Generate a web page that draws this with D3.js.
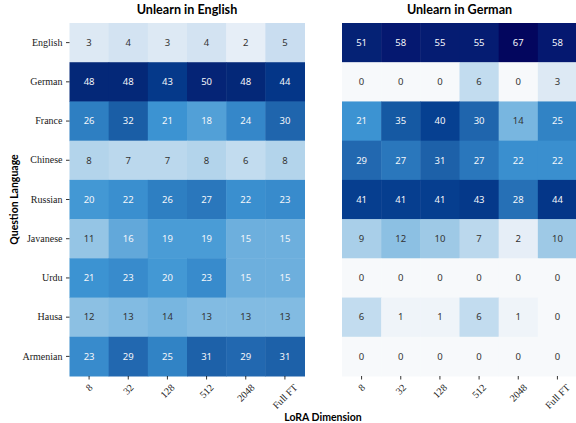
<!DOCTYPE html>
<html>
<head>
<meta charset="utf-8">
<script src="https://cdn.jsdelivr.net/npm/d3@7"></script>
<style>
    body { margin: 0; background: #fff; }
    svg { display: block; }
</style>
</head>
<body>
<div id="chart"></div>
<script>
const languages = ["English", "German", "France", "Chinese", "Russian", "Javanese", "Urdu", "Hausa", "Armenian"];
const loraDims = ["8", "32", "128", "512", "2048", "Full FT"];

const unlearnEnglish = [
    [3, 4, 3, 4, 2, 5],
    [48, 48, 43, 50, 48, 44],
    [26, 32, 21, 18, 24, 30],
    [8, 7, 7, 8, 6, 8],
    [20, 22, 26, 27, 22, 23],
    [11, 16, 19, 19, 15, 15],
    [21, 23, 20, 23, 15, 15],
    [12, 13, 14, 13, 13, 13],
    [23, 29, 25, 31, 29, 31]
];

const unlearnGerman = [
    [51, 58, 55, 55, 67, 58],
    [0, 0, 0, 6, 0, 3],
    [21, 35, 40, 30, 14, 25],
    [29, 27, 31, 27, 22, 22],
    [41, 41, 41, 43, 28, 44],
    [9, 12, 10, 7, 2, 10],
    [0, 0, 0, 0, 0, 0],
    [6, 1, 1, 6, 1, 0],
    [0, 0, 0, 0, 0, 0]
];

const width = 576, height = 423;
const gridTop = 23, gridBottom = 376;
const sans = "'Noto Sans', 'Open Sans', sans-serif";
const boldSans = "Lato, 'Noto Sans', sans-serif";
const serif = "'Liberation Serif', 'DejaVu Serif', serif";

// shared colour scale for both panels (0 .. 67)
const colour = d3.scaleLinear()
    .domain([0, 2, 3, 5, 6, 8, 10, 12, 14, 16, 19, 21, 23, 26, 29, 32, 35, 40, 44, 48, 51, 58, 67])
    .range(["#f7f9fb", "#e6eef7", "#dde9f4", "#c9ddf0", "#c2dcef", "#b3d4eb", "#9ec9e6", "#8cc0e3",
            "#78b6e0", "#62a8da", "#4a9cd6", "#3c93d2", "#388bcc", "#2e7fc2", "#2268b0", "#1a5ea6",
            "#1559a3", "#064091", "#043688", "#042878", "#052275", "#051870", "#03065e"])
    .interpolate(d3.interpolateRgb)
    .clamp(true);

const luminance = c => {
    const rgb = d3.rgb(c);
    const lin = v => {
        v /= 255;
        return v <= 0.03928 ? v / 12.92 : Math.pow((v + 0.055) / 1.055, 2.4);
    };
    return 0.2126 * lin(rgb.r) + 0.7152 * lin(rgb.g) + 0.0722 * lin(rgb.b);
};

const svg = d3.select("#chart").append("svg")
    .attr("width", width)
    .attr("height", height);

const y = d3.scaleBand()
    .domain(languages)
    .range([gridTop, gridBottom]);

const drawHeatmap = (data, x0, x1, title, showYAxis) => {
    const x = d3.scaleBand()
        .domain(loraDims)
        .range([x0, x1]);

    const g = svg.append("g");

    const cells = [];
    data.forEach((row, i) => {
        row.forEach((value, j) => {
            cells.push({ lang: languages[i], dim: loraDims[j], value: value });
        });
    });

    g.selectAll(".cell")
        .data(cells)
        .enter().append("rect")
        .attr("class", "cell")
        .attr("x", d => x(d.dim))
        .attr("y", d => y(d.lang))
        .attr("width", x.bandwidth() + 0.5)
        .attr("height", y.bandwidth() + 0.5)
        .attr("fill", d => colour(d.value));

    g.selectAll(".cell-label")
        .data(cells)
        .enter().append("text")
        .attr("class", "cell-label")
        .attr("x", d => x(d.dim) + x.bandwidth() / 2)
        .attr("y", d => y(d.lang) + y.bandwidth() / 2)
        .attr("dy", "0.35em")
        .style("text-anchor", "middle")
        .style("font-family", sans)
        .style("font-size", "9.5px")
        .style("fill", d => luminance(colour(d.value)) > 0.408 ? "#333333" : "#f4f6fa")
        .text(d => d.value);

    g.append("text")
        .attr("x", (x0 + x1) / 2)
        .attr("y", 14)
        .style("text-anchor", "middle")
        .style("font-family", boldSans)
        .style("font-weight", "bold")
        .style("font-size", "12.6px")
        .style("fill", "#000")
        .text(title);

    const xAxisGroup = g.append("g")
        .attr("transform", `translate(0,${gridBottom})`)
        .call(d3.axisBottom(x).tickSize(3.5).tickFormat(""));
    xAxisGroup.select(".domain").remove();
    xAxisGroup.selectAll("line").attr("stroke", "#000").attr("stroke-width", 0.8);

    // rotated tick labels, bbox centred on the tick
    const labelTop = gridBottom + 6.5;
    loraDims.forEach(dim => {
        const t = g.append("text")
            .style("font-family", serif)
            .style("font-size", "10px")
            .style("fill", "#1a1a1a")
            .style("text-anchor", "middle")
            .attr("dominant-baseline", "central")
            .text(dim);
        const len = t.node().getComputedTextLength();
        const h = 9;
        const cx = x(dim) + x.bandwidth() / 2;
        const cy = labelTop + (len + h) / (2 * Math.SQRT2);
        t.attr("x", cx).attr("y", cy)
            .attr("transform", `rotate(-45,${cx},${cy})`);
    });

    if (showYAxis) {
        const yAxisGroup = g.append("g")
            .attr("transform", `translate(${x0},0)`)
            .call(d3.axisLeft(y).tickSize(3.5).tickPadding(3.5));
        yAxisGroup.select(".domain").remove();
        yAxisGroup.selectAll("line").attr("stroke", "#000").attr("stroke-width", 0.8);
        yAxisGroup.selectAll("text")
            .style("font-family", serif)
            .style("font-size", "10px")
            .style("fill", "#1a1a1a");
    }
};

drawHeatmap(unlearnEnglish, 69.5, 304.5, "Unlearn in English", true);
drawHeatmap(unlearnGerman, 342, 577, "Unlearn in German", false);

svg.append("text")
    .attr("transform", `translate(14,${(gridTop + gridBottom) / 2}) rotate(-90)`)
    .attr("dy", "0.35em")
    .style("text-anchor", "middle")
    .style("font-family", boldSans)
    .style("font-weight", "bold")
    .style("font-size", "10.5px")
    .style("fill", "#000")
    .text("Question Language");

svg.append("text")
    .attr("x", 323)
    .attr("y", 421)
    .style("text-anchor", "middle")
    .style("font-family", boldSans)
    .style("font-weight", "bold")
    .style("font-size", "10.5px")
    .style("fill", "#000")
    .text("LoRA Dimension");
</script>
</body>
</html>
